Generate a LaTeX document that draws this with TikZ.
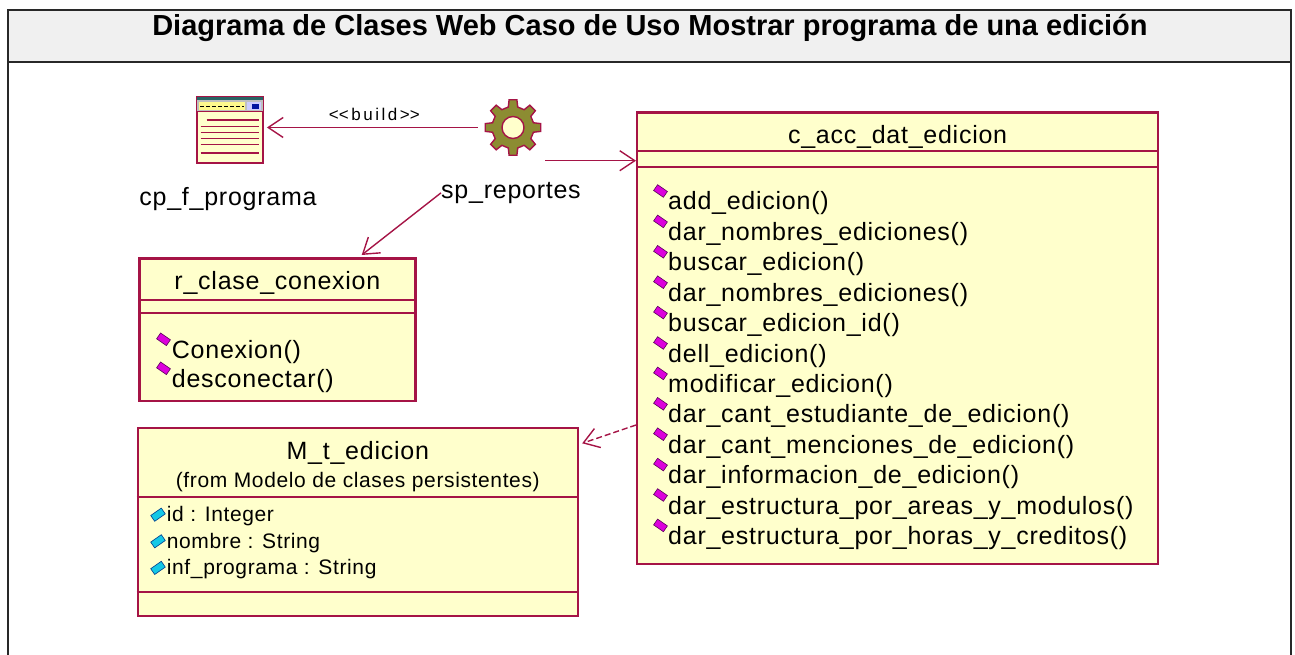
\documentclass[tikz,border=0pt]{standalone}
\usepackage{fontspec}
\setmainfont{Liberation Sans}
\newfontfamily\umlfont{Liberation Sans}[LetterSpace=3]
\newfontfamily\stereofont{Liberation Sans}[LetterSpace=15]
\usepackage{tikz}
\usetikzlibrary{%
	arrows.meta,%
	calc,%
	positioning
}
\definecolor{umlred}{RGB}{165,20,70}
\definecolor{umlfill}{RGB}{255,255,204}
\definecolor{titlefill}{RGB}{240,240,240}
\definecolor{framecol}{RGB}{40,40,40}
\definecolor{opmag}{RGB}{220,0,220}
\definecolor{opdark}{RGB}{90,0,90}
\definecolor{attcyan}{RGB}{20,200,230}
\definecolor{attdark}{RGB}{0,60,140}
\definecolor{gearfill}{RGB}{140,140,50}
\definecolor{iconteal}{RGB}{40,100,100}
\definecolor{iconblue}{RGB}{0,20,160}

\begin{document}
\begin{tikzpicture}[x=1pt,y=-1pt,
		classbox/.style={draw=umlred,fill=umlfill,line width=2.2pt,inner sep=0pt,anchor=north west},
		compart/.style={draw=umlred,line width=2pt},
		cname/.style={font=\umlfont\fontsize{25}{30}\selectfont,anchor=base,inner sep=0pt},
		member/.style={font=\umlfont\fontsize{25}{30}\selectfont,anchor=base west,inner sep=0pt},
		attr/.style={font=\umlfont\fontsize{21}{25}\selectfont,anchor=base west,inner sep=0pt},
		link/.style={draw=umlred,line width=1.4pt,-{Straight Barb[length=15pt,width=20pt]}},
		opicon/.style={fill=opmag,draw=opdark,line width=0.6pt},
		atticon/.style={fill=attcyan,draw=attdark,line width=0.6pt}
	]
	\useasboundingbox (0,0) rectangle (1295,655);
	% frame and title
	\fill[titlefill] (8,10) rectangle (1291,62);
	\draw[framecol,line width=1.5pt] (8,655)--(8,10)--(1291,10)--(1291,655);
	\draw[framecol,line width=1.3pt] (8,62)--(1291,62);
	\node[font=\bfseries\fontsize{29}{34}\selectfont,anchor=base,inner sep=0pt] (title) at (650,36) {Diagrama de Clases Web Caso de Uso Mostrar programa de una edición};

	% client page
	\node[draw=umlred,fill=umlfill,line width=1.8pt,minimum size=66pt,inner sep=0pt] (programa) at (230,130) {};
	\begin{scope}
		\fill[iconteal] (197,97.5) rectangle (263,100.5);
		\fill[black!25] (197,100.5) rectangle (263,112);
		\fill[yellow!45!white] (199,102) rectangle (245,110.5);
		\draw[black,line width=1.3pt,dash pattern=on 4pt off 2pt] (200,106.3)--(244,106.3);
		\fill[white!80!blue] (247,102) rectangle (261,110.5);
		\fill[iconblue] (251.5,104.5) rectangle (258.5,109);
		\draw[umlred,line width=1pt] (197,112)--(263,112);
		\foreach \y/\xa in {120/206.7,126.5/200.7,132.5/200.7,138.5/200.7,144.5/200.7,153.3/200.7}
			\draw[umlred,line width=1.6pt] (\xa,\y)--(259,\y);
	\end{scope}
	\node[font=\umlfont\fontsize{25}{30}\selectfont,anchor=base,inner sep=0pt] (programalbl) at (228,206) {cp\_f\_programa};

	% server page
	\node[circle,minimum size=56pt,inner sep=0pt] (reportes) at (513,127.5) {};
	\draw[umlred,fill=gearfill,line width=1.4pt,shift={(reportes.center)}] (-13:21)
		\foreach \a in {0,45,...,315}{ -- ({\a-13}:21) -- ({\a-8}:28) -- ({\a+8}:28) -- ({\a+13}:21) } -- cycle;
	\draw[umlred,fill=umlfill,line width=1.4pt] (reportes.center) circle (11);
	\node[font=\umlfont\fontsize{25}{30}\selectfont,anchor=base,inner sep=0pt] (reporteslbl) at (511,198.3) {sp\_reportes};
	\coordinate (repout) at (545,160.7);

	% c_acc_dat_edicion
	\node[classbox,minimum width=521pt,minimum height=451pt] (cacc) at (636,111.5) {};
	\draw[compart] (cacc.north west) ++(0,40) -- ++(521,0);
	\draw[compart] (cacc.north west) ++(0,56) -- ++(521,0);
	\node[cname] (caccname) at ($(cacc.north)+(0,32)$) {c\_acc\_dat\_edicion};
	\foreach \op [count=\i from 0] in {add\_edicion(),dar\_nombres\_ediciones(),buscar\_edicion(),dar\_nombres\_ediciones(),buscar\_edicion\_id(),dell\_edicion(),modificar\_edicion(),dar\_cant\_estudiante\_de\_edicion(),dar\_cant\_menciones\_de\_edicion(),dar\_informacion\_de\_edicion(),dar\_estructura\_por\_areas\_y\_modulos(),dar\_estructura\_por\_horas\_y\_creditos()}{
		\node[member] (cacc op\i) at (668,{210+30.4*\i}) {\op};
		\draw[opicon] (660.5,{191+30.4*\i}) ++(-6.9,-0.5) -- ++(4,-5.8) -- ++(9.8,6.8) -- ++(-4,5.8) -- cycle;
	}

	% r_clase_conexion
	\node[classbox,minimum width=276pt,minimum height=142.7pt] (rclase) at (138.3,257.3) {};
	\draw[compart] (rclase.north west) ++(0,42.7) -- ++(276,0);
	\draw[compart] (rclase.north west) ++(0,56) -- ++(276,0);
	\node[cname] (rclasename) at ($(rclase.north)+(0,32)$) {r\_clase\_conexion};
	\foreach \op [count=\i from 0] in {Conexion(),desconectar()}{
		\node[member] (rclase op\i) at (171.7,{358.3+29*\i}) {\op};
		\draw[opicon] (163.5,{339.3+29*\i}) ++(-6.9,-0.5) -- ++(4,-5.8) -- ++(9.8,6.8) -- ++(-4,5.8) -- cycle;
	}

	% M_t_edicion
	\node[classbox,minimum width=440pt,minimum height=188.3pt] (medic) at (136.7,426.7) {};
	\draw[compart] (medic.north west) ++(0,70) -- ++(440,0);
	\draw[compart] (medic.north west) ++(0,165.6) -- ++(440,0);
	\node[cname] (medicname) at ($(medic.north)+(0,32.6)$) {M\_t\_edicion};
	\node[attr,anchor=base] (medicfrom) at ($(medic.north)+(0,60.6)$) {(from Modelo de clases persistentes)};
	\foreach \at [count=\i from 0] in {id : Integer,nombre : String,inf\_programa : String}{
		\node[attr] (medic att\i) at (166.7,{521.7+26.6*\i}) {\at};
		\draw[atticon] (158,{514.7+26.6*\i}) ++(-7.3,0.8) -- ++(10.6,-7.4) -- ++(4,5.8) -- ++(-10.6,7.4) -- cycle;
	}

	% connectors
	\draw[link,shorten <=7pt,shorten >=3pt] (reportes.west) -- (programa.east |- reportes.west)
		node[pos=0.5,above=6pt,font=\stereofont\fontsize{17}{20}\selectfont,inner sep=0pt] (buildlbl) {<\kern0pt<build>\kern0pt>};
	\draw[link] (repout) -- (cacc.west |- repout);
	\draw[link] (reporteslbl.west) -- ($(rclase.north west)+(223.4,-2.3)$);
	\draw[link,dash pattern=on 6pt off 3pt] ($(cacc.north west)+(0,313.5)$) -- ($(medic.north east)+(3.3,16.6)$);
\end{tikzpicture}
\end{document}
